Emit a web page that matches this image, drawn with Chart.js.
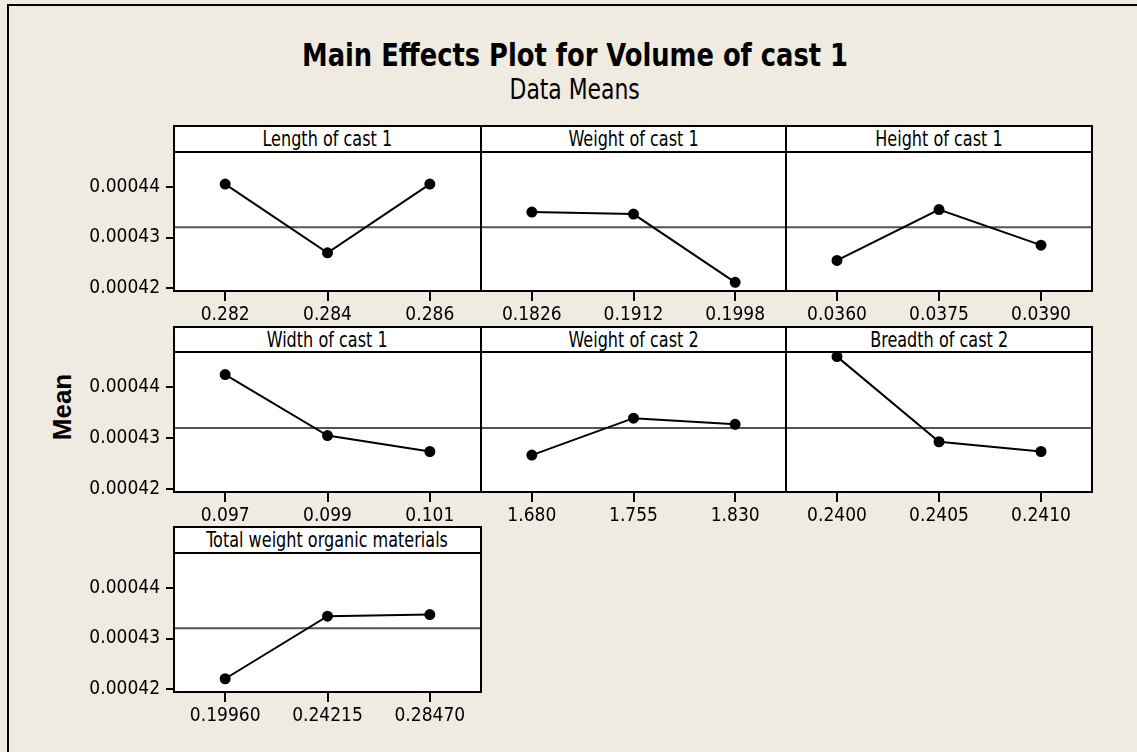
<!DOCTYPE html>
<html>
<head>
<meta charset="utf-8">
<script src="https://cdn.jsdelivr.net/npm/chart.js@4.4.1/dist/chart.umd.min.js"></script>
<style>
  body { margin: 0; background: #f0ebe1; width: 1137px; height: 752px; overflow: hidden; position: relative; font-family: 'DejaVu Sans Condensed', 'DejaVu Sans', sans-serif; color: #000; }
  .frame { position: absolute; left: 7px; top: 4px; width: 1300px; height: 900px; border: 2px solid #000; }
  .title { position: absolute; left: 0; width: 1150px; text-align: center; white-space: nowrap; }
  .title span, .head span { display: inline-block; }
  .head { position: absolute; box-sizing: border-box; border: 2px solid #000; background: #fff; text-align: center; font-size: 21px; line-height: 24px; white-space: nowrap; z-index: 2; }
  .head span { transform: scaleX(0.85); }
  canvas { position: absolute; z-index: 1; }
</style>
</head>
<body>
<div class="frame"></div>
<div class="title" style="top:38px; font-size:32px; line-height:35px; font-weight:bold;"><span id="t1">Main Effects Plot for Volume of cast 1</span></div>
<div class="title" style="top:75px; font-size:29px; line-height:29px;"><span id="t2">Data Means</span></div>
<div style="position:absolute; left:12px; top:392px; width:100px; height:30px; line-height:30px; text-align:center; font-family:'Liberation Sans', sans-serif; font-weight:bold; font-size:26px; transform:rotate(-90deg);">Mean</div>

<script>
// factor levels and data means
const lengthLevels = ['0.282', '0.284', '0.286'];
const lengthMeans = [0.0004405, 0.0004270, 0.0004405];

const weight1Levels = ['0.1826', '0.1912', '0.1998'];
const weight1Means = [0.0004350, 0.0004346, 0.0004212];

const heightLevels = ['0.0360', '0.0375', '0.0390'];
const heightMeans = [0.0004255, 0.0004355, 0.0004285];

const widthLevels = ['0.097', '0.099', '0.101'];
const widthMeans = [0.0004424, 0.0004305, 0.0004274];

const weight2Levels = ['1.680', '1.755', '1.830'];
const weight2Means = [0.0004267, 0.0004339, 0.0004327];

const breadthLevels = ['0.2400', '0.2405', '0.2410'];
const breadthMeans = [0.0004459, 0.0004293, 0.0004274];

const totalLevels = ['0.19960', '0.24215', '0.28470'];
const totalMeans = [0.0004221, 0.0004344, 0.0004347];

const grandMean = 0.000432;
const yTicks = [0.00042, 0.00043, 0.00044];

const panels = [
  { name: 'Length of cast 1', levels: lengthLevels, means: lengthMeans },
  { name: 'Weight of cast 1', levels: weight1Levels, means: weight1Means },
  { name: 'Height of cast 1', levels: heightLevels, means: heightMeans },
  { name: 'Width of cast 1', levels: widthLevels, means: widthMeans },
  { name: 'Weight of cast 2', levels: weight2Levels, means: weight2Means },
  { name: 'Breadth of cast 2', levels: breadthLevels, means: breadthMeans },
  { name: 'Total weight organic materials', levels: totalLevels, means: totalMeans },
];

// squeeze the title lines to the narrow Minitab look
function fitWidth(id, target) {
  const el = document.getElementById(id);
  el.style.transform = 'scaleX(' + (target / el.offsetWidth) + ')';
}
fitWidth('t1', 546);
fitWidth('t2', 130);

// panel grid geometry
const colLeft = [174, 481, 786];
const colRight = [481, 786, 1092];
const headTop = [126, 327, 527];
const plotTop = [152, 352, 553];
const plotBottom = [291, 492, 692];
const pad = 30;

const tickFont = { family: "'DejaVu Sans Condensed', 'DejaVu Sans', sans-serif", size: 19 };

// white plot area, mean reference line and the black box round each plot
const panelFrame = {
  id: 'panelFrame',
  beforeDraw(chart) {
    const { ctx, chartArea: a } = chart;
    ctx.save();
    ctx.fillStyle = '#fff';
    ctx.fillRect(a.left, a.top, a.right - a.left, a.bottom - a.top);
    ctx.restore();
  },
  beforeDatasetsDraw(chart) {
    const { ctx, chartArea: a, scales: { y } } = chart;
    const yy = y.getPixelForValue(grandMean);
    ctx.save();
    ctx.strokeStyle = '#555';
    ctx.lineWidth = 2;
    ctx.beginPath();
    ctx.moveTo(a.left, yy);
    ctx.lineTo(a.right, yy);
    ctx.stroke();
    ctx.restore();
  },
  afterDraw(chart) {
    const { ctx, chartArea: a } = chart;
    ctx.save();
    ctx.strokeStyle = '#000';
    ctx.lineWidth = 2;
    ctx.strokeRect(a.left, a.top, a.right - a.left, a.bottom - a.top);
    ctx.restore();
  }
};

panels.forEach((p, i) => {
  const c = i % 3, r = Math.floor(i / 3);
  const first = c === 0;
  const left = first ? 10 : colLeft[c] - pad;
  const top = headTop[r] - 2;
  const w = colRight[c] + pad - left;
  const h = plotBottom[r] - top + 40;

  const head = document.createElement('div');
  head.className = 'head';
  head.style.left = (colLeft[c] - 1) + 'px';
  head.style.top = (headTop[r] - 1) + 'px';
  head.style.width = (colRight[c] - colLeft[c] + 2) + 'px';
  head.style.height = (plotTop[r] - headTop[r] + 2) + 'px';
  const span = document.createElement('span');
  span.textContent = p.name;
  head.appendChild(span);

  const cv = document.createElement('canvas');
  cv.width = w; cv.height = h;
  cv.style.left = left + 'px';
  cv.style.top = top + 'px';
  document.body.appendChild(cv);
  document.body.appendChild(head);

  new Chart(cv, {
    type: 'line',
    data: {
      labels: p.levels,
      datasets: [{
        data: p.means,
        borderColor: '#000',
        borderWidth: 2,
        tension: 0,
        pointRadius: 4.5,
        pointBackgroundColor: '#000',
        pointBorderColor: '#000',
      }]
    },
    options: {
      responsive: false,
      animation: false,
      devicePixelRatio: 1,
      layout: { padding: { top: plotTop[r] - top, left: first ? 0 : pad, right: pad, bottom: 0 } },
      plugins: { legend: { display: false }, tooltip: { enabled: false } },
      scales: {
        x: {
          type: 'category',
          offset: true,
          border: { display: false },
          grid: { drawOnChartArea: false, drawTicks: true, tickLength: 10, color: '#000', lineWidth: 2 },
          ticks: { color: '#000', font: tickFont, padding: 3, maxRotation: 0, autoSkip: false },
          afterFit(s) { s.height = 40; }
        },
        y: {
          display: first,
          min: 0.0004195,
          max: 0.0004468,
          border: { display: false },
          grid: { drawOnChartArea: false, drawTicks: true, tickLength: 8, color: '#000', lineWidth: 2 },
          ticks: { color: '#000', font: tickFont, padding: 6, callback: v => v.toFixed(5) },
          afterBuildTicks(s) { s.ticks = yTicks.map(v => ({ value: v })); },
          afterFit(s) { s.width = first ? colLeft[0] - 10 : 0; }
        }
      }
    },
    plugins: [panelFrame]
  });
});
</script>
</body>
</html>
